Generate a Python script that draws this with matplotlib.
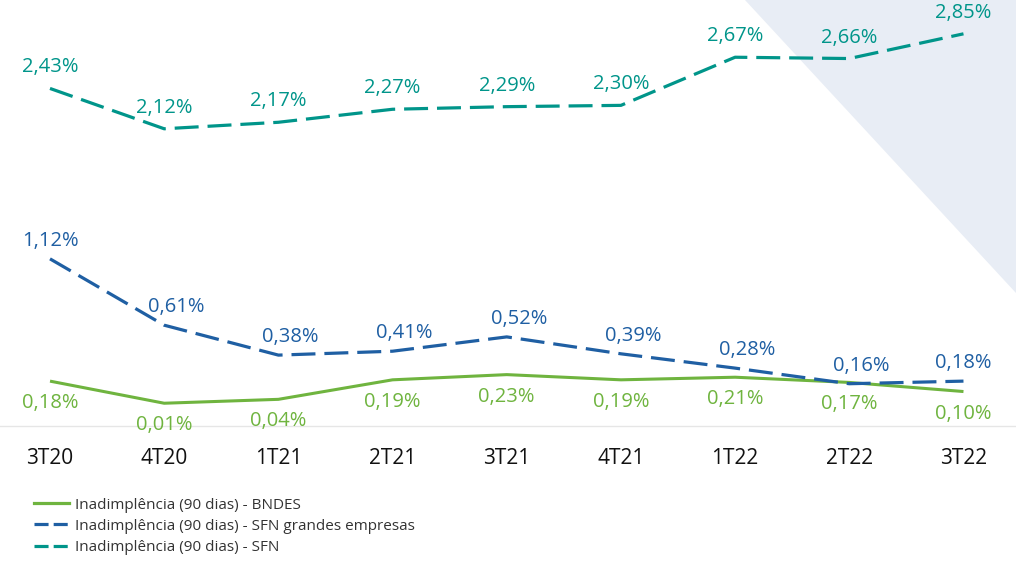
import matplotlib.pyplot as plt
from matplotlib.patches import Polygon
from matplotlib.lines import Line2D

# Dados
trimestres = ["3T20", "4T20", "1T21", "2T21", "3T21", "4T21", "1T22", "2T22", "3T22"]
bndes = [0.18, 0.01, 0.04, 0.19, 0.23, 0.19, 0.21, 0.17, 0.10]
sfn_grandes = [1.12, 0.61, 0.38, 0.41, 0.52, 0.39, 0.28, 0.16, 0.18]
sfn = [2.43, 2.12, 2.17, 2.27, 2.29, 2.30, 2.67, 2.66, 2.85]

nomes = ["Inadimplência (90 dias) - BNDES",
         "Inadimplência (90 dias) - SFN grandes empresas",
         "Inadimplência (90 dias) - SFN"]

verde = "#6fb43f"
azul = "#1f5fa3"
teal = "#00958a"

plt.rcParams['font.family'] = ['Open Sans', 'DejaVu Sans']

fig = plt.figure(figsize=(10.16, 5.61), dpi=100)
fig.patch.set_facecolor("white")

# triangolo di sfondo
tri = Polygon([(745 / 1016, 1), (1, 1), (1, 1 - 293 / 561)], closed=True,
              transform=fig.transFigure, facecolor="#e8edf5", edgecolor="none", zorder=0)
fig.patches.append(tri)

ax = fig.add_axes([0, 1 - 426 / 561, 1, 426 / 561])
ax.set_facecolor("none")
ax.set_zorder(2)

x = list(range(len(trimestres)))
ax.plot(x, bndes, color=verde, lw=2.2, solid_capstyle="butt")
ax.plot(x, sfn_grandes, color=azul, lw=2.3, dashes=(7.5, 2.8))
ax.plot(x, sfn, color=teal, lw=2.3, dashes=(7.5, 2.8))

def fmt(v):
    return f"{v:.2f}".replace(".", ",") + "%"

fs = 14.5
for xi, v in zip(x, bndes):
    ax.annotate(fmt(v), (xi, v), xytext=(0, -22), textcoords="offset pixels",
                ha="center", va="center", color=verde, fontsize=fs)
for xi, v in zip(x, sfn_grandes):
    dx = 0 if xi == 0 or xi == 8 else 12
    ax.annotate(fmt(v), (xi, v), xytext=(dx, 18), textcoords="offset pixels",
                ha="center", va="center", color=azul, fontsize=fs)
for xi, v in zip(x, sfn):
    ax.annotate(fmt(v), (xi, v), xytext=(0, 21), textcoords="offset pixels",
                ha="center", va="center", color=teal, fontsize=fs)

ax.set_xlim(-0.438, 8.46)
ax.set_ylim(-0.165, 3.11)
ax.set_xticks(x)
ax.set_xticklabels(trimestres, fontsize=15, color="#111111")
ax.tick_params(axis="x", length=0, pad=16)
ax.set_yticks([])
for s in ["top", "left", "right"]:
    ax.spines[s].set_visible(False)
ax.spines["bottom"].set_color("#e6e6e6")
ax.spines["bottom"].set_linewidth(1)

# legenda
handles = [Line2D([], [], color=verde, lw=2.3),
           Line2D([], [], color=azul, lw=2.3, dashes=(4.4, 1.6)),
           Line2D([], [], color=teal, lw=2.3, dashes=(4.4, 1.6))]
leg = fig.legend(handles, nomes, loc="upper left", bbox_to_anchor=(26 / 1016, 1 - 490 / 561),
                 frameon=False, fontsize=11, handlelength=2.3, handletextpad=0.4,
                 labelspacing=0.4, borderpad=0)
for t in leg.get_texts():
    t.set_color("#333333")

fig.savefig("out.png", dpi=100)
